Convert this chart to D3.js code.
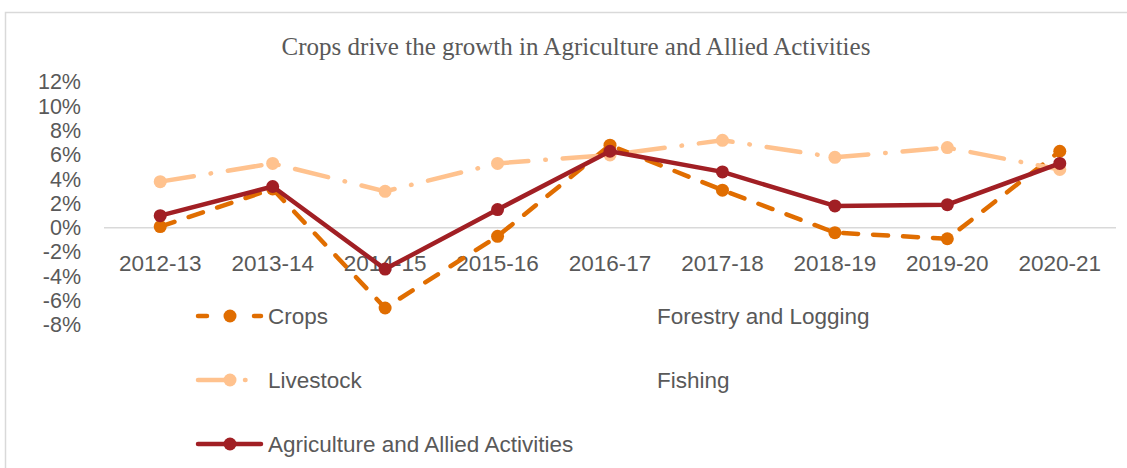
<!DOCTYPE html>
<html>
<head>
<meta charset="utf-8">
<script src="https://cdn.jsdelivr.net/npm/d3@7"></script>
<style>
  body { margin: 0; background: #fff; }
  text { font-family: "Liberation Sans", Arial, sans-serif; fill: #595959; }
</style>
</head>
<body>
<div id="chart"></div>
<script>
// data
const years = ["2012-13", "2013-14", "2014-15", "2015-16", "2016-17", "2017-18", "2018-19", "2019-20", "2020-21"];
const crops = [0.1, 3.2, -6.6, -0.7, 6.8, 3.1, -0.4, -0.9, 6.3];
const livestock = [3.8, 5.3, 3.0, 5.3, 6.0, 7.2, 5.8, 6.6, 4.8];
const agriculture = [1.0, 3.4, -3.4, 1.5, 6.3, 4.6, 1.8, 1.9, 5.3];
const yTicks = [-8, -6, -4, -2, 0, 2, 4, 6, 8, 10, 12];
const legendNames = ["Crops", "Forestry and Logging", "Livestock", "Fishing", "Agriculture and Allied Activities"];

const W = 1127, H = 468;

const svg = d3.select("#chart").append("svg")
  .attr("width", W)
  .attr("height", H);

// chart border
svg.append("rect")
  .attr("x", 5.5).attr("y", 12.5)
  .attr("width", W + 10).attr("height", H + 10)
  .attr("fill", "#fff")
  .attr("stroke", "#d9d9d9")
  .attr("stroke-width", 1.5);

// title
svg.append("text")
  .attr("x", 576)
  .attr("y", 55)
  .attr("text-anchor", "middle")
  .style("font-family", "'Liberation Serif', 'Times New Roman', serif")
  .style("font-size", "25px")
  .text("Crops drive the growth in Agriculture and Allied Activities");

// scales
let x = d3.scaleBand()
  .domain(years)
  .range([104, 1116]);

let y = d3.scaleLinear()
  .domain([-8, 12])
  .range([325, 82]);

// y axis labels (no line)
let yAxis = svg.append("g")
  .attr("transform", "translate(83,0)")
  .call(d3.axisLeft(y).tickValues(yTicks).tickSize(0).tickPadding(2).tickFormat(d => d + "%"));
yAxis.select(".domain").remove();
yAxis.selectAll("text")
  .style("font-size", "21.5px")
  .style("fill", "#595959");

// zero line
svg.append("line")
  .attr("x1", 104).attr("x2", 1116)
  .attr("y1", y(0)).attr("y2", y(0))
  .attr("stroke", "#d9d9d9")
  .attr("stroke-width", 1.5);

// x axis labels at zero
let xAxis = svg.append("g")
  .attr("transform", "translate(0," + y(0) + ")")
  .call(d3.axisBottom(x).tickSize(0).tickPadding(27));
xAxis.select(".domain").remove();
xAxis.selectAll("text")
  .style("font-size", "22.5px")
  .style("fill", "#595959");

let cx = d => x(d) + x.bandwidth() / 2;

let series = [
  {name: "Crops", values: crops, color: "#e06d00", dash: "15 15", legendDash: "9 47", r: 6.5},
  {name: "Livestock", values: livestock, color: "#ffc28e", dash: "34 17 0.5 17", legendDash: "30 17 0.5 30", r: 6.5},
  {name: "Agriculture and Allied Activities", values: agriculture, color: "#a11f24", dash: null, legendDash: null, r: 6.5}
];

let line = d3.line()
  .x((d, i) => cx(years[i]))
  .y(d => y(d));

series.forEach(s => {
  let g = svg.append("g");
  g.append("path")
    .datum(s.values)
    .attr("d", line)
    .attr("fill", "none")
    .attr("stroke", s.color)
    .attr("stroke-width", 4.5)
    .attr("stroke-linecap", "round")
    .attr("stroke-linejoin", "round")
    .attr("stroke-dasharray", s.dash);
  g.selectAll("circle")
    .data(s.values)
    .enter()
    .append("circle")
    .attr("cx", (d, i) => cx(years[i]))
    .attr("cy", d => y(d))
    .attr("r", s.r)
    .attr("fill", s.color);
});

// legend: two columns, row-major
let legendStyle = {};
series.forEach(s => legendStyle[s.name] = s);

let legend = svg.append("g");
legendNames.forEach((name, i) => {
  let col = i % 2, row = Math.floor(i / 2);
  let lx = col === 0 ? 196 : 585;
  let ly = 316 + row * 64;
  let item = legend.append("g").attr("transform", "translate(" + lx + "," + ly + ")");
  let s = legendStyle[name];
  if (s) {
    item.append("line")
      .attr("x1", 2).attr("x2", 65)
      .attr("y1", 0).attr("y2", 0)
      .attr("stroke", s.color)
      .attr("stroke-width", 4.5)
      .attr("stroke-linecap", "round")
      .attr("stroke-dasharray", s.legendDash);
    item.append("circle")
      .attr("cx", 34).attr("cy", 0)
      .attr("r", s.r)
      .attr("fill", s.color);
  }
  item.append("text")
    .attr("x", 72)
    .attr("y", 0)
    .attr("dy", "0.35em")
    .style("font-size", "22.5px")
    .text(name);
});
</script>
</body>
</html>
